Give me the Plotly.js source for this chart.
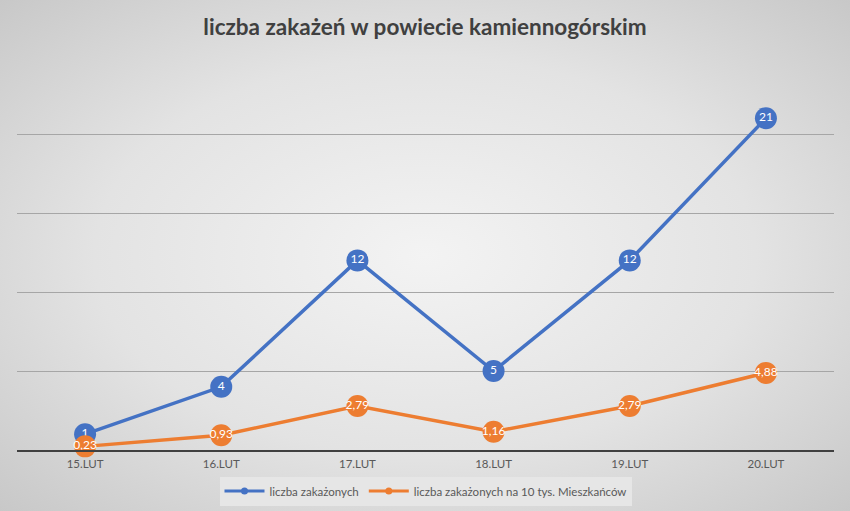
<!DOCTYPE html>
<html>
<head>
<meta charset="utf-8">
<script src="https://cdn.plot.ly/plotly-3.0.1.min.js"></script>
<style>
  html, body { margin: 0; padding: 0; }
  body {
    width: 850px; height: 511px; overflow: hidden;
    background: radial-gradient(ellipse at 50% 50%, #f3f3f3 0%, #e3e3e3 55%, #c8c8c8 100%);
  }
  #chart { width: 850px; height: 511px; }
</style>
</head>
<body>
<div id="chart"></div>
<script>
const categories = ["15.LUT", "16.LUT", "17.LUT", "18.LUT", "19.LUT", "20.LUT"];
const infected = [1, 4, 12, 5, 12, 21];
const infectedPer10k = [0.23, 0.93, 2.79, 1.16, 2.79, 4.88];
const seriesNames = ["liczba zakażonych", "liczba zakażonych na 10 tys. Mieszkańców"];
const colors = ['#4472C4', '#ED7D31'];

const fmt = v => String(v).replace('.', ',');
const FONT = 'Lato, "Open Sans", sans-serif';

const series = [infected, infectedPer10k];
const traces = [];
series.forEach((vals, i) => {
  traces.push({
    x: categories, y: vals, name: seriesNames[i],
    type: 'scatter', mode: 'lines+markers+text', showlegend: false,
    line: { color: colors[i], width: 3.5 },
    marker: { color: colors[i], size: 22 },
    text: vals.map(fmt), textposition: 'middle center',
    textfont: { family: FONT, size: 12, color: '#ffffff' },
    cliponaxis: false
  });
});
// legend entries (small markers like the reference legend)
series.forEach((vals, i) => {
  traces.push({
    x: [null], y: [null], name: seriesNames[i],
    type: 'scatter', mode: 'lines+markers', showlegend: true,
    line: { color: colors[i], width: 3 },
    marker: { color: colors[i], size: 7 }
  });
});

const layout = {
  width: 850, height: 511,
  paper_bgcolor: 'rgba(0,0,0,0)', plot_bgcolor: 'rgba(0,0,0,0)',
  margin: { l: 17, r: 16, t: 55, b: 61, autoexpand: false },
  title: {
    text: '<b>liczba zakażeń w powiecie kamiennogórskim</b>',
    font: { family: FONT, size: 22.5, color: '#404040' },
    x: 0.5, xanchor: 'center', y: 0.947, yanchor: 'middle'
  },
  xaxis: {
    type: 'category', range: [-0.5, 5.5],
    showgrid: false, zeroline: false,
    showline: true, linecolor: '#404040', linewidth: 2,
    ticks: '', ticklabelstandoff: 2,
    tickfont: { family: FONT, size: 11.5, color: '#595959' },
    fixedrange: true
  },
  yaxis: {
    range: [0, 25], dtick: 5, showticklabels: false,
    showgrid: true, gridcolor: '#a6a6a6', gridwidth: 1,
    zeroline: false, showline: false, fixedrange: true
  },
  showlegend: true,
  legend: {
    orientation: 'h', x: 0.5, xanchor: 'center', y: -0.104, yanchor: 'middle',
    bgcolor: '#e6e6e6',
    font: { family: FONT, size: 11.5, color: '#595959' },
    itemwidth: 40, tracegroupgap: 0
  }
};

Plotly.newPlot('chart', traces, layout, { displayModeBar: false, staticPlot: true });
</script>
</body>
</html>
